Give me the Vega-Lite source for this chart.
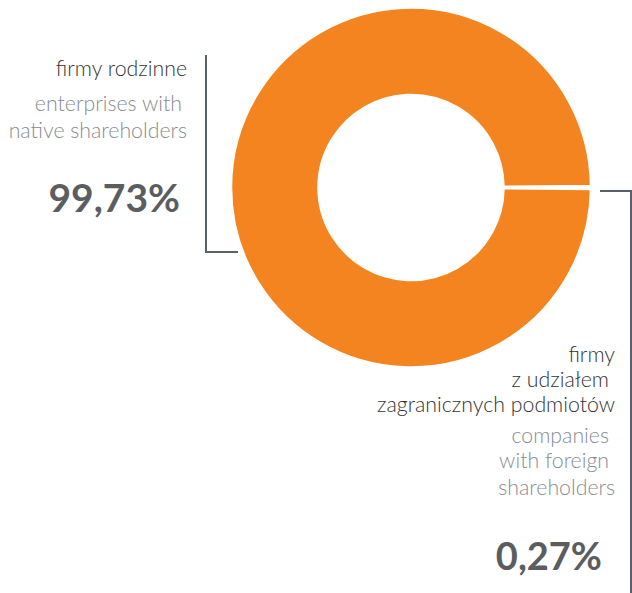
{
  "$schema": "https://vega.github.io/schema/vega-lite/v6.json",
  "autosize": {"type": "none"},
  "width": 360,
  "height": 360,
  "padding": {"left": 231, "top": 7.5, "right": 41, "bottom": 225.5},
  "background": "white",
  "config": {"view": {"stroke": null}, "text": {"font": "Lato"}},
  "layer": [
    {
      "data": {"values": [
        {"category": "firmy z udziałem zagranicznych podmiotów", "order": 1, "value": 0.27},
        {"category": "firmy rodzinne", "order": 2, "value": 99.73}
      ]},
      "mark": {"type": "arc", "outerRadius": 180, "innerRadius": 92.5, "stroke": "white", "strokeWidth": 2.5},
      "encoding": {
        "theta": {"field": "value", "type": "quantitative", "stack": true, "scale": {"range": [1.5623, 7.8455]}},
        "order": {"field": "order", "type": "quantitative"},
        "color": {"field": "category", "type": "nominal", "legend": null,
          "scale": {"domain": ["firmy rodzinne", "firmy z udziałem zagranicznych podmiotów"], "range": ["#F4841F", "#FFFFFF"]}}
      }
    },
    {"data": {"values": [{}]}, "mark": {"type": "rule", "stroke": "#5b6168", "strokeWidth": 2},
     "encoding": {"x": {"value": -25}, "y": {"value": 47.5}, "y2": {"value": 245.5}}},
    {"data": {"values": [{}]}, "mark": {"type": "rule", "stroke": "#5b6168", "strokeWidth": 2},
     "encoding": {"x": {"value": -26}, "x2": {"value": 7}, "y": {"value": 244.5}}},
    {"data": {"values": [{}]}, "mark": {"type": "rule", "stroke": "#5b6168", "strokeWidth": 2},
     "encoding": {"x": {"value": 369}, "x2": {"value": 401}, "y": {"value": 183.5}}},
    {"data": {"values": [{}]}, "mark": {"type": "rule", "stroke": "#5b6168", "strokeWidth": 2},
     "encoding": {"x": {"value": 400}, "y": {"value": 182.5}, "y2": {"value": 590}}},
    {"data": {"values": [{}]}, "mark": {"type": "text", "text": "firmy rodzinne", "align": "right", "baseline": "alphabetic", "fontSize": 21.3, "fontWeight": 300, "color": "#333333"},
     "encoding": {"x": {"value": -44}, "y": {"value": 68.5}}},
    {"data": {"values": [{}]}, "mark": {"type": "text", "text": "enterprises with", "align": "right", "baseline": "alphabetic", "fontSize": 21.3, "fontWeight": 300, "color": "#878c91"},
     "encoding": {"x": {"value": -49}, "y": {"value": 103}}},
    {"data": {"values": [{}]}, "mark": {"type": "text", "text": "native shareholders", "align": "right", "baseline": "alphabetic", "fontSize": 21.3, "fontWeight": 300, "color": "#878c91"},
     "encoding": {"x": {"value": -44}, "y": {"value": 130.5}}},
    {"data": {"values": [{}]}, "mark": {"type": "text", "text": "99,73%", "align": "right", "baseline": "alphabetic", "fontSize": 39, "fontWeight": "bold", "color": "#5b5d60"},
     "encoding": {"x": {"value": -51}, "y": {"value": 204.5}}},
    {"data": {"values": [{}]}, "mark": {"type": "text", "text": "firmy", "align": "right", "baseline": "alphabetic", "fontSize": 21.3, "fontWeight": 300, "color": "#333333"},
     "encoding": {"x": {"value": 384}, "y": {"value": 354.5}}},
    {"data": {"values": [{}]}, "mark": {"type": "text", "text": "z udziałem", "align": "right", "baseline": "alphabetic", "fontSize": 21.3, "fontWeight": 300, "color": "#333333"},
     "encoding": {"x": {"value": 378}, "y": {"value": 379.5}}},
    {"data": {"values": [{}]}, "mark": {"type": "text", "text": "zagranicznych podmiotów", "align": "right", "baseline": "alphabetic", "fontSize": 21.3, "fontWeight": 300, "color": "#333333"},
     "encoding": {"x": {"value": 384}, "y": {"value": 404.5}}},
    {"data": {"values": [{}]}, "mark": {"type": "text", "text": "companies", "align": "right", "baseline": "alphabetic", "fontSize": 21.3, "fontWeight": 300, "color": "#878c91"},
     "encoding": {"x": {"value": 378}, "y": {"value": 435.5}}},
    {"data": {"values": [{}]}, "mark": {"type": "text", "text": "with foreign", "align": "right", "baseline": "alphabetic", "fontSize": 21.3, "fontWeight": 300, "color": "#878c91"},
     "encoding": {"x": {"value": 378}, "y": {"value": 460.5}}},
    {"data": {"values": [{}]}, "mark": {"type": "text", "text": "shareholders", "align": "right", "baseline": "alphabetic", "fontSize": 21.3, "fontWeight": 300, "color": "#878c91"},
     "encoding": {"x": {"value": 384}, "y": {"value": 487.5}}},
    {"data": {"values": [{}]}, "mark": {"type": "text", "text": "0,27%", "align": "right", "baseline": "alphabetic", "fontSize": 38, "fontWeight": "bold", "color": "#5b5d60"},
     "encoding": {"x": {"value": 371}, "y": {"value": 562.5}}}
  ]
}
